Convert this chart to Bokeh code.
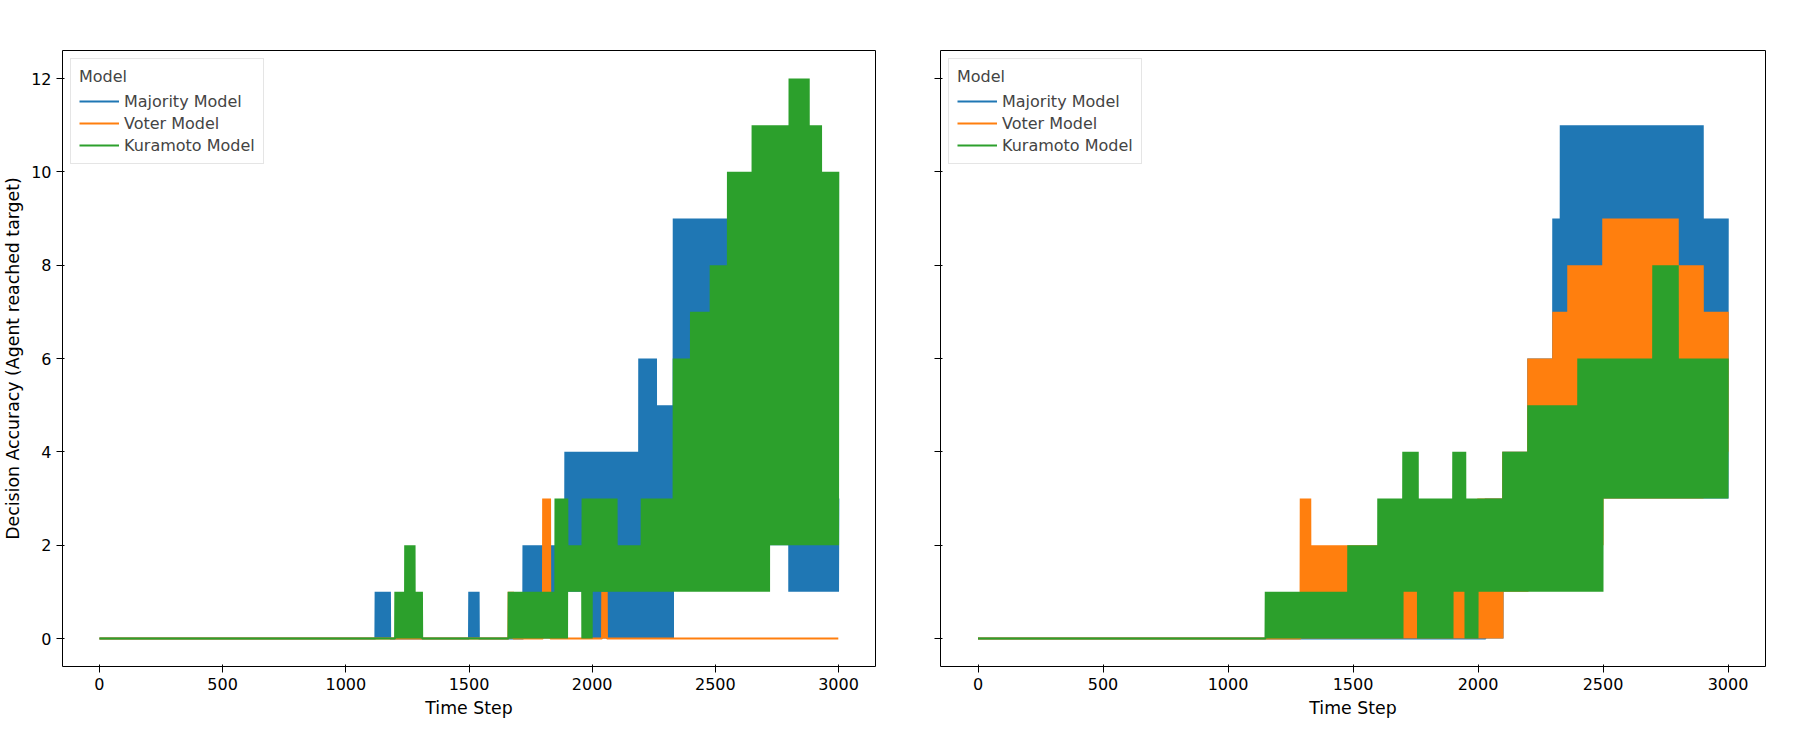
from bokeh.plotting import figure
from bokeh.layouts import row
from bokeh.models import Range1d, Legend, LegendItem
from bokeh.embed import file_html
from bokeh.resources import INLINE

# bands: (start step, end step, low, high)
left_majority = [(0, 1120, 0, 0), (1120, 1180, 0, 1), (1180, 1500, 0, 0), (1500, 1540, 0, 1),
                 (1540, 1720, 0, 0), (1720, 1790, 0, 2), (1790, 1890, 0, 2), (1890, 2000, 1, 4),
                 (2000, 2190, 0, 4), (2190, 2260, 0, 6), (2260, 2330, 0, 5), (2330, 2800, 2, 9),
                 (2800, 2880, 1, 5), (2880, 3000, 1, 3)]
left_voter = [(0, 1660, 0, 0), (1660, 1680, 0, 1), (1680, 1800, 0, 0), (1800, 1830, 0, 3),
              (1830, 2040, 0, 0), (2040, 2060, 0, 1), (2060, 3000, 0, 0)]
left_kuramoto = [(0, 1200, 0, 0), (1200, 1240, 0, 1), (1240, 1280, 0, 2), (1280, 1310, 0, 1),
                 (1310, 1660, 0, 0), (1660, 1850, 0, 1), (1850, 1900, 0, 3), (1900, 1960, 1, 2),
                 (1960, 2000, 0, 3), (2000, 2100, 1, 3), (2100, 2200, 1, 2), (2200, 2330, 1, 3),
                 (2330, 2400, 1, 6), (2400, 2480, 1, 7), (2480, 2550, 1, 8), (2550, 2650, 1, 10),
                 (2650, 2720, 1, 11), (2720, 2800, 2, 11), (2800, 2880, 2, 12), (2880, 2930, 2, 11),
                 (2930, 3000, 2, 10)]
right_majority = [(0, 2030, 0, 0), (2030, 2100, 0, 3), (2100, 2200, 2, 4), (2200, 2300, 2, 6),
                  (2300, 2330, 3, 9), (2330, 2900, 3, 11), (2900, 3000, 3, 9)]
right_voter = [(0, 1290, 0, 0), (1290, 1330, 0, 3), (1330, 2000, 0, 2), (2000, 2100, 0, 3),
               (2100, 2200, 1, 4), (2200, 2300, 2, 6), (2300, 2360, 3, 7), (2360, 2500, 2, 8),
               (2500, 2800, 3, 9), (2800, 2900, 3, 8), (2900, 3000, 4, 7)]
right_kuramoto = [(0, 1150, 0, 0), (1150, 1480, 0, 1), (1480, 1600, 0, 2), (1600, 1700, 0, 3),
                  (1700, 1760, 1, 4), (1760, 1900, 0, 3), (1900, 1950, 1, 4), (1950, 2000, 0, 3),
                  (2000, 2100, 1, 3), (2100, 2200, 1, 4), (2200, 2300, 1, 5), (2300, 2400, 1, 5),
                  (2400, 2500, 1, 6), (2500, 2600, 3, 6), (2600, 2700, 3, 6), (2700, 2800, 3, 8),
                  (2800, 3000, 3, 6)]

colors = ["#1f77b4", "#ff7f0e", "#2ca02c"]
names = ["Majority Model", "Voter Model", "Kuramoto Model"]
FONT = "DejaVu Sans"


def expand(bands):
    xs, ys = [], []
    for t0, t1, lo, hi in bands:
        for k, t in enumerate(range(t0, t1)):
            xs.append(t)
            ys.append(lo if k % 2 == 0 else hi)
    return xs, ys


def panel(series, ylabel):
    p = figure(width=880, height=720, output_backend="svg", toolbar_location=None,
               x_range=Range1d(-150, 3150), y_range=Range1d(-0.6, 12.6),
               min_border_top=50, min_border_bottom=30)
    p.xgrid.visible = False
    p.ygrid.visible = False
    p.outline_line_color = "black"
    p.xaxis.axis_label = "Time Step"
    p.xaxis.ticker = [0, 500, 1000, 1500, 2000, 2500, 3000]
    p.yaxis.ticker = [0, 2, 4, 6, 8, 10, 12]
    for ax in (p.xaxis, p.yaxis):
        ax.axis_label_text_font_style = "normal"
        ax.axis_label_text_font_size = "13pt"
        ax.axis_label_text_font = FONT
        ax.axis_label_text_color = "black"
        ax.major_label_text_font_size = "12pt"
        ax.major_label_text_font = FONT
        ax.minor_tick_line_color = None
        ax.major_label_text_color = "black"
        ax.axis_line_color = None
    if ylabel:
        p.yaxis.axis_label = ylabel
    else:
        p.yaxis.major_label_overrides = {v: " " for v in [0, 2, 4, 6, 8, 10, 12]}
        p.min_border_left = 50
    items = []
    for bands, c, n in zip(series, colors, names):
        xs, ys = expand(bands)
        r = p.line(xs, ys, line_color=c, line_width=2)
        items.append(LegendItem(label=n, renderers=[r]))
    leg = Legend(items=items, location="top_left", title="Model",
                 title_text_font_style="normal", title_text_font_size="12pt",
                 title_text_font=FONT, label_text_font=FONT,
                 label_text_font_size="12pt", border_line_color="#cccccc",
                 spacing=2, padding=8, glyph_width=40, margin=8)
    p.add_layout(leg)
    return p


p1 = panel([left_majority, left_voter, left_kuramoto], "Decision Accuracy (Agent reached target)")
p2 = panel([right_majority, right_voter, right_kuramoto], None)
p = row(p1, p2, spacing=10)
open("out.html", "w").write(file_html(p, INLINE))
